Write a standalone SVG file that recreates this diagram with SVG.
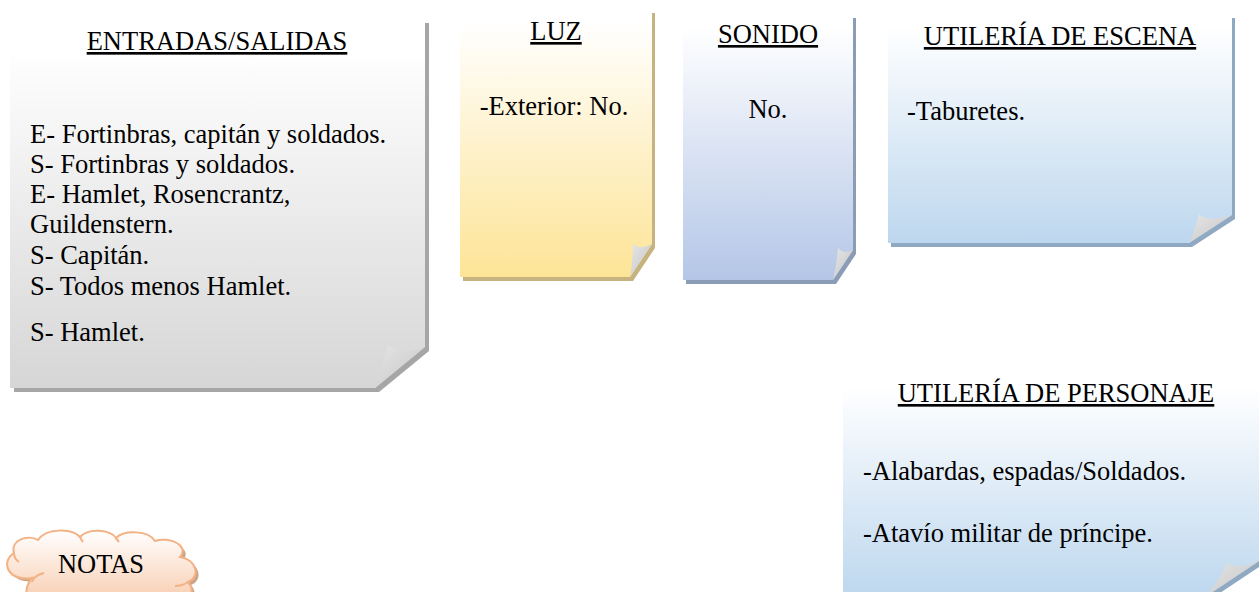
<svg xmlns="http://www.w3.org/2000/svg" width="1259" height="592" viewBox="0 0 1259 592">
<style>
text{font-family:"Liberation Serif","Times New Roman",serif;font-size:26.5px;fill:#000}
.t{text-anchor:middle;text-decoration:underline}
.m{text-anchor:middle}
.curl{fill:url(#gCurl)}
</style>
<defs>
<linearGradient id="gGray" x1="0" y1="0" x2="0" y2="1"><stop offset="0.08" stop-color="#ffffff"/><stop offset="1" stop-color="#d6d6d6"/></linearGradient>
<linearGradient id="gGold" x1="0" y1="0" x2="0" y2="1"><stop offset="0.05" stop-color="#ffffff"/><stop offset="1" stop-color="#fde496"/></linearGradient>
<linearGradient id="gLav" x1="0" y1="0" x2="0" y2="1"><stop offset="0.05" stop-color="#ffffff"/><stop offset="1" stop-color="#b4c6e7"/></linearGradient>
<linearGradient id="gBlue" x1="0" y1="0" x2="0" y2="1"><stop offset="0.05" stop-color="#ffffff"/><stop offset="1" stop-color="#bdd7ee"/></linearGradient>
<linearGradient id="gPeach" x1="0" y1="0" x2="0" y2="1"><stop offset="0" stop-color="#ffffff"/><stop offset="1" stop-color="#f8cbad"/></linearGradient>
<linearGradient id="gCurl" x1="0" y1="0" x2="1" y2="1"><stop offset="0" stop-color="#e6e6e6"/><stop offset="1" stop-color="#c4c4c4"/></linearGradient>
</defs>
<g id="connectors"/>
<g id="node-entradas">
<path d="M10,19 H425 V347 L375,388 H10 Z" fill="#a6a6a6" transform="translate(4,4)"/>
<path d="M10,19 H425 V347 L375,388 H10 Z" fill="url(#gGray)"/>
<path class="curl" d="M388,344 Q398,356 425,347 L375,388 Q383,368 388,344 Z"/>
<text class="t" x="217" y="50">ENTRADAS/SALIDAS</text>
<text x="30" y="143">E- Fortinbras, capitán y soldados.</text>
<text x="30" y="173">S- Fortinbras y soldados.</text>
<text x="30" y="203">E- Hamlet, Rosencrantz,</text>
<text x="30" y="233">Guildenstern.</text>
<text x="30" y="264">S- Capitán.</text>
<text x="30" y="295">S- Todos menos Hamlet.</text>
<text x="30" y="341">S- Hamlet.</text>
</g>
<g id="node-luz">
<path d="M460,9 H652 V244 L630,277 H460 Z" fill="#c6b380" transform="translate(3,4)"/>
<path d="M460,9 H652 V244 L630,277 H460 Z" fill="url(#gGold)"/>
<path class="curl" d="M633,243 Q638,251 652,244 L630,277 Q633,260 633,243 Z"/>
<text class="t" x="556" y="40">LUZ</text>
<text class="m" x="554" y="115">-Exterior: No.</text>
</g>
<g id="node-sonido">
<path d="M683,14 H853 V250 L833,280 H683 Z" fill="#8c9cb6" transform="translate(3,4)"/>
<path d="M683,14 H853 V250 L833,280 H683 Z" fill="url(#gLav)"/>
<path class="curl" d="M838,247 Q842,255 853,250 L833,280 Q837,263 838,247 Z"/>
<text class="t" x="768" y="43">SONIDO</text>
<text class="m" x="768" y="118">No.</text>
</g>
<g id="node-utileria-escena">
<path d="M888,14 H1232 V215 L1189,243 H888 Z" fill="#90a9c3" transform="translate(3,4)"/>
<path d="M888,14 H1232 V215 L1189,243 H888 Z" fill="url(#gBlue)"/>
<path class="curl" d="M1199,214 Q1208,223 1232,215 L1189,243 Q1196,228 1199,214 Z"/>
<text class="t" x="1060" y="45">UTILERÍA DE ESCENA</text>
<text x="907" y="120">-Taburetes.</text>
</g>
<g id="node-utileria-personaje">
<path d="M843,375 H1262 V559 L1205,597 H843 Z" fill="#90a9c3" transform="translate(3,4)"/>
<path d="M843,375 H1262 V559 L1205,597 H843 Z" fill="url(#gBlue)"/>
<path class="curl" d="M1227,563 Q1238,571 1262,559 L1205,597 Q1220,580 1227,563 Z"/>
<text class="t" x="1056" y="402">UTILERÍA DE PERSONAJE</text>
<text x="863" y="480">-Alabardas, espadas/Soldados.</text>
<text x="863" y="542">-Atavío militar de príncipe.</text>
</g>
<g id="node-notas">
<path d="M32,578 C8,582 0,562 14,553 C10,540 28,534 38,540 C46,528 72,528 80,537 C88,528 110,529 116,538 C124,530 148,530 155,541 C170,536 190,546 180,557 C198,560 200,578 188,582 C196,592 190,600 180,604 L30,604 C24,595 26,585 32,578 Z" fill="#c9a58c" transform="translate(3,3)"/>
<path d="M32,578 C8,582 0,562 14,553 C10,540 28,534 38,540 C46,528 72,528 80,537 C88,528 110,529 116,538 C124,530 148,530 155,541 C170,536 190,546 180,557 C198,560 200,578 188,582 C196,592 190,600 180,604 L30,604 C24,595 26,585 32,578 Z" fill="url(#gPeach)" stroke="#f4b183" stroke-width="2"/>
<path d="M14,553 C14,557 16,560 19,562 M44,573 C38,574 33,578 32,582 M188,582 C184,585 179,586 175,586 M80,537 C81,539 82,541 83,542 M116,538 C117,540 118,541 119,542" fill="none" stroke="#f4b183" stroke-width="2"/>
<text class="m" x="101" y="573">NOTAS</text>
</g>
</svg>
